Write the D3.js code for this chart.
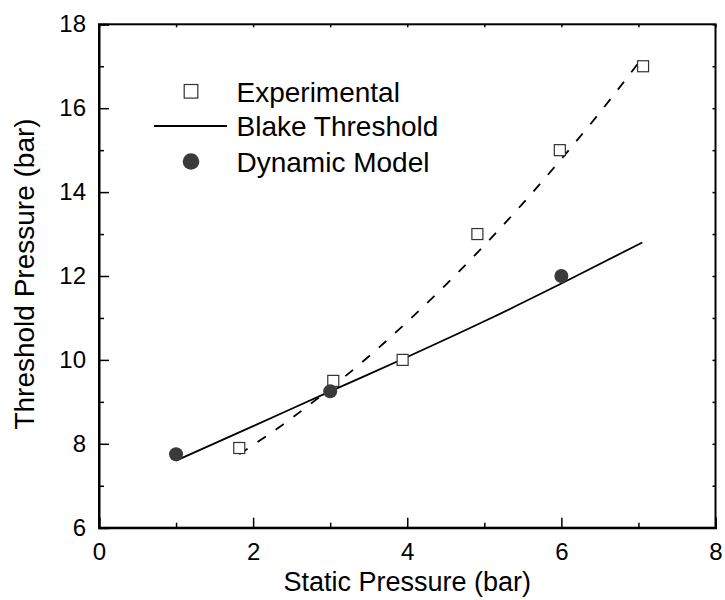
<!DOCTYPE html>
<html><head><meta charset="utf-8">
<script src="https://cdn.jsdelivr.net/npm/d3@7"></script>
<style>body{margin:0;background:#fff}svg{display:block}text{font-family:"Liberation Sans",Arial,sans-serif;fill:#000}</style>
</head><body><svg id="c" width="725" height="600"></svg>
<script>
const expX = [1.82, 3.04, 3.94, 4.91, 5.98, 7.06];
const expY = [7.9, 9.5, 10.0, 13.0, 15.0, 17.0];
const dynX = [1.0, 3.0, 6.0];
const dynY = [7.75, 9.25, 12.0];
const blakeX = [1.0, 2.0, 3.0, 4.0, 5.0, 6.0, 7.05];
const blakeY = [7.6, 8.42, 9.25, 10.07, 10.92, 11.82, 12.8];
const fitX = [1.82, 2.5, 3.0, 3.5, 4.0, 4.5, 5.0, 5.5, 6.0, 6.5, 7.03];
const fitY = [7.75, 8.61, 9.32, 10.08, 10.91, 11.79, 12.73, 13.73, 14.79, 15.9, 17.15];
const xTicks = [0, 2, 4, 6, 8];
const yTicks = [6, 8, 10, 12, 14, 16, 18];
const legendLabels = ["Experimental", "Blake Threshold", "Dynamic Model"];

const svg = d3.select("#c");
const L = 99, R = 715.5, T = 24.3, B = 527.7;
const x = d3.scaleLinear().domain([0, 8]).range([L, R]);
const y = d3.scaleLinear().domain([6, 18]).range([B, T]);
const minorX = d3.range(0, 8.01, 1), minorY = d3.range(6, 18.01, 1);

// axes
const gBottom = svg.append("g").attr("transform", `translate(0,${B})`)
  .call(d3.axisBottom(x).tickValues(xTicks).tickSize(-10).tickPadding(15).tickFormat(d3.format("d")));
const gLeft = svg.append("g").attr("transform", `translate(${L},0)`)
  .call(d3.axisLeft(y).tickValues(yTicks).tickSize(-10).tickPadding(13).tickFormat(d3.format("d")));
const gTop = svg.append("g").attr("transform", `translate(0,${T})`)
  .call(d3.axisTop(x).tickValues(minorX).tickSize(-3).tickFormat(""));
const gRight = svg.append("g").attr("transform", `translate(${R},0)`)
  .call(d3.axisRight(y).tickValues(minorY).tickSize(-3).tickFormat(""));
const gBMinor = svg.append("g").attr("transform", `translate(0,${B})`)
  .call(d3.axisBottom(x).tickValues(minorX.filter(v => v % 2)).tickSize(-5).tickFormat(""));
const gLMinor = svg.append("g").attr("transform", `translate(${L},0)`)
  .call(d3.axisLeft(y).tickValues(minorY.filter(v => v % 2)).tickSize(-5).tickFormat(""));
[gBottom, gLeft, gTop, gRight, gBMinor, gLMinor].forEach(g => {
  g.selectAll(".domain").attr("stroke", "#000").attr("stroke-width", 2);
  g.selectAll(".tick line").attr("stroke", "#000").attr("stroke-width", 1.5);
  g.selectAll(".tick text").attr("font-size", 24).attr("font-family", "Liberation Sans, Arial, sans-serif").attr("fill", "#000");
});
[gTop, gRight, gBMinor, gLMinor].forEach(g => g.select(".domain").remove());
svg.append("rect").attr("x", L).attr("y", T).attr("width", R - L).attr("height", B - T)
  .attr("fill", "none").attr("stroke", "#000").attr("stroke-width", 2);

// titles
svg.append("text").attr("x", (L + R) / 2).attr("y", 591).attr("text-anchor", "middle")
  .attr("font-size", 27).text("Static Pressure (bar)");
svg.append("text").attr("transform", `translate(34,${(T + B) / 2 - 2}) rotate(-90)`).attr("text-anchor", "middle")
  .attr("font-size", 28).text("Threshold Pressure (bar)");

// lines
const line = d3.line().x(d => x(d[0])).y(d => y(d[1])).curve(d3.curveMonotoneX);
svg.append("path").datum(fitX.map((v, i) => [v, fitY[i]])).attr("d", line)
  .attr("fill", "none").attr("stroke", "#000").attr("stroke-width", 1.8).attr("stroke-dasharray", "10,12");
svg.append("path").datum(blakeX.map((v, i) => [v, blakeY[i]])).attr("d", line)
  .attr("fill", "none").attr("stroke", "#000").attr("stroke-width", 1.8);

// markers
const sq = 11;
svg.selectAll(".exp").data(expX.map((v, i) => [v, expY[i]])).join("rect")
  .attr("x", d => x(d[0]) - sq / 2).attr("y", d => y(d[1]) - sq / 2).attr("width", sq).attr("height", sq)
  .attr("fill", "#fff").attr("stroke", "#333").attr("stroke-width", 1.2);
svg.selectAll(".dyn").data(dynX.map((v, i) => [v, dynY[i]])).join("circle")
  .attr("cx", d => x(d[0])).attr("cy", d => y(d[1])).attr("r", 7).attr("fill", "#3a3a3a");

// legend
const lg = svg.append("g");
const rows = [91.3, 126, 161.5];
lg.append("rect").attr("x", 191 - 6.8).attr("y", rows[0] - 6.8).attr("width", 13.6).attr("height", 13.6)
  .attr("fill", "#fff").attr("stroke", "#333").attr("stroke-width", 1.2);
lg.append("line").attr("x1", 154).attr("x2", 227).attr("y1", rows[1]).attr("y2", rows[1])
  .attr("stroke", "#000").attr("stroke-width", 1.8);
lg.append("circle").attr("cx", 191).attr("cy", rows[2]).attr("r", 8.3).attr("fill", "#3a3a3a");
legendLabels.forEach((t, i) => lg.append("text").attr("x", 236.5).attr("y", rows[i] + 10.3)
  .attr("font-size", 28).text(t));
</script></body></html>
